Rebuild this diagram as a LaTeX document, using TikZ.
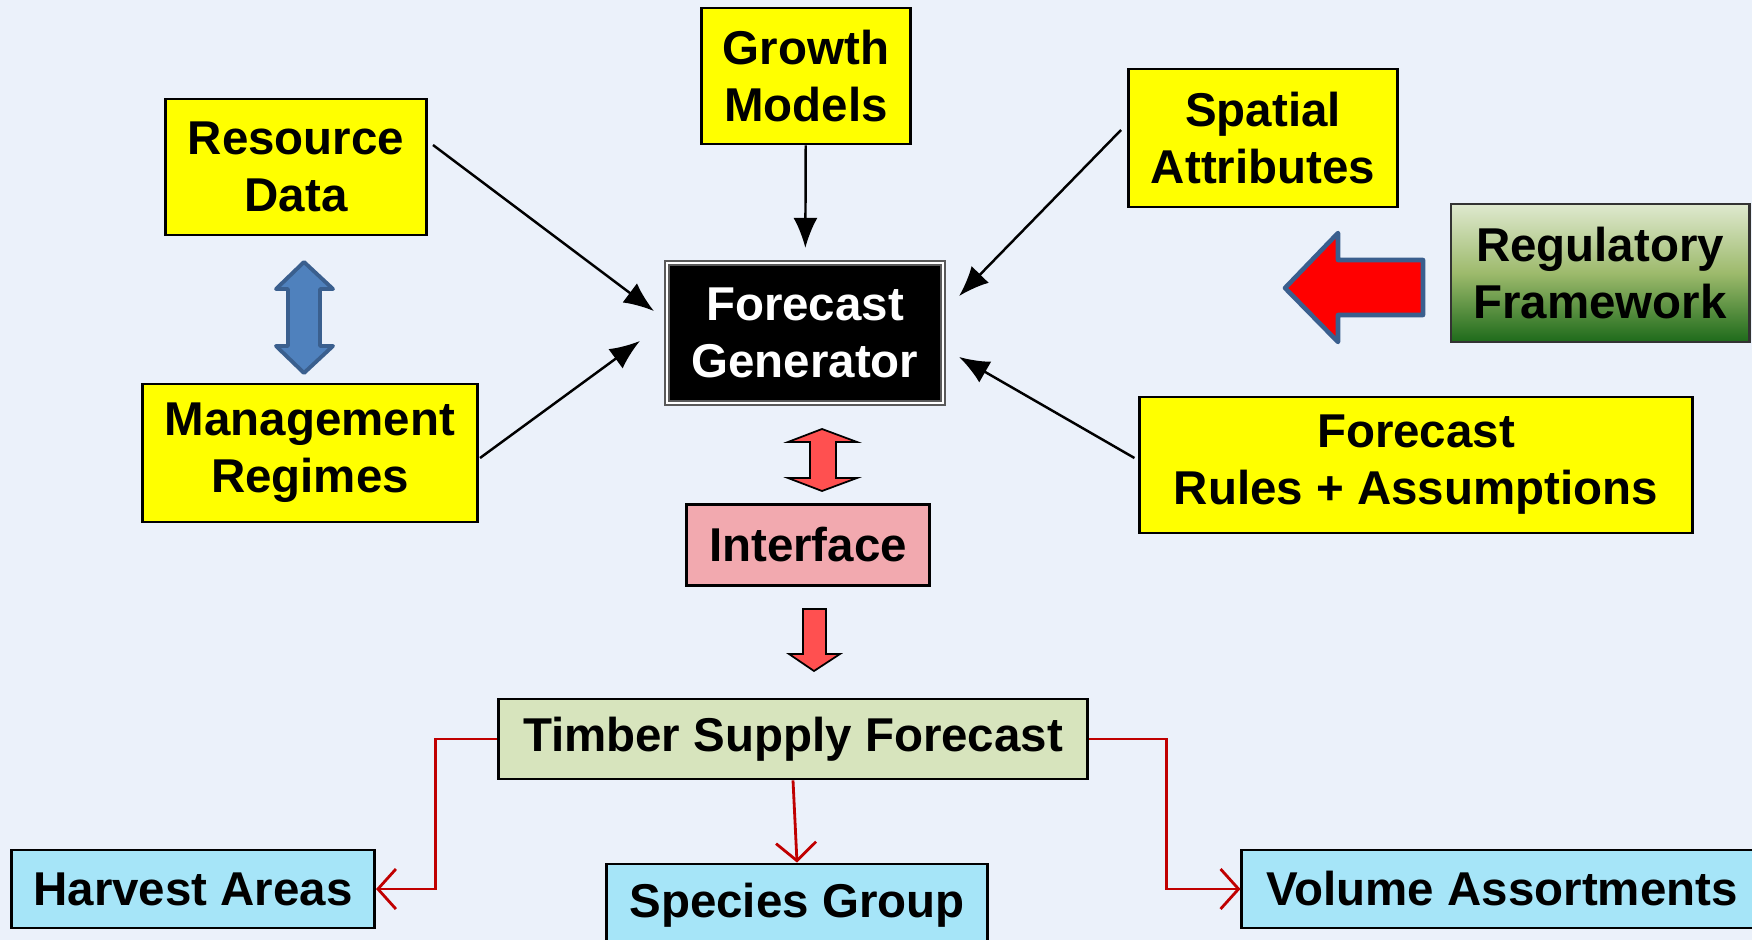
\documentclass[tikz,border=0pt]{standalone}
\usepackage{fontspec}
\setmainfont{Liberation Sans}
\usetikzlibrary{arrows.meta}

\definecolor{bgblue}{HTML}{EBF1FA}
\definecolor{boxyellow}{HTML}{FFFF00}
\definecolor{outcyan}{HTML}{A6E5F8}
\definecolor{timbergreen}{HTML}{D7E4BD}
\definecolor{ifpink}{HTML}{F2A9AF}
\definecolor{linered}{HTML}{C00000}
\definecolor{arrowblue}{HTML}{4F81BD}
\definecolor{arrowblueedge}{HTML}{3A5F8E}
\definecolor{arrowsalmon}{HTML}{FF5050}
\definecolor{regtop}{HTML}{DFE9CF}
\definecolor{regmid}{HTML}{9DBA6C}
\definecolor{regbot}{HTML}{1D6A1A}

\begin{document}
\begin{tikzpicture}[x=0.01cm,y=-0.01cm]
\tikzstyle{box}=[draw=black, line width=0.8pt, align=center, inner sep=0pt, font=\fontsize{13.5}{16.2}\selectfont\bfseries]
\tikzstyle{input}=[box, fill=boxyellow]
\tikzstyle{output}=[box, fill=outcyan]
\tikzstyle{feed}=[-{Latex[length=3mm,width=2.4mm]}, line width=0.7pt]
\tikzstyle{branch}=[-{Straight Barb[length=1.8mm,width=4mm]}, draw=linered, line width=0.8pt]
\tikzstyle{blockarrow}=[line join=round]

% background and page size
\fill[bgblue] (0,0) rectangle (1752,940);
\useasboundingbox (0,0) rectangle (1752,940);

% inputs
\node[input, minimum width=2.61cm, minimum height=1.36cm] (res) at (296,167) {Resource\\Data};
\node[input, minimum width=3.35cm, minimum height=1.38cm] (mgmt) at (310,453) {Management\\Regimes};
\node[input, minimum width=2.09cm, minimum height=1.36cm] (growth) at (806,76) {Growth\\Models};
\node[input, minimum width=2.69cm, minimum height=1.38cm] (spatial) at (1263,138) {Spatial\\Attributes};
\node[input, minimum width=5.52cm, minimum height=1.36cm] (rules) at (1416,465) {Forecast\\Rules + Assumptions};
\node[box, draw=black!80, minimum width=2.98cm, minimum height=1.38cm,
      top color=regtop, bottom color=regbot, middle color=regmid] (reg) at (1600,273) {Regulatory\\Framework};

% generator and interface
\node[box, fill=black, text=white, draw=black!65, line width=0.6pt, double=white, double distance=0.6pt,
      minimum width=2.76cm, minimum height=1.40cm] (gen) at (805,333) {Forecast\\Generator};
\node[box, fill=ifpink, minimum width=2.43cm, minimum height=0.81cm] (iface) at (808,545) {Interface};

% outputs
\node[box, fill=timbergreen, minimum width=5.88cm, minimum height=0.80cm] (timber) at (793,739) {Timber Supply Forecast};
\node[output, minimum width=3.63cm, minimum height=0.78cm] (harvest) at (193,889) {Harvest Areas};
\node[output, minimum width=3.81cm, minimum height=0.82cm] (species) at (797,905) {Species Group};
\node[output, minimum width=5.20cm, minimum height=0.78cm] (volume) at (1502,889) {Volume Assortments};

% feeds into the generator
\draw[feed] ([shift={(5,-22)}]res.east) -- ([shift={(-12,-22)}]gen.west);
\draw[feed] ([shift={(1,5)}]mgmt.east) -- ([shift={(-26,8)}]gen.west);
\draw[feed, shorten >=0.14cm] (growth) -- (gen);
\draw[feed] ([shift={(-6,-8)}]spatial.west) -- ([shift={(15,-37)}]gen.east);
\draw[feed] ([shift={(-4,-7)}]rules.west) -- ([shift={(15,24)}]gen.east);

% block arrows
\filldraw[blockarrow, fill=arrowblue, draw=arrowblueedge, line width=1.1pt]
  (304,262) -- (333,289) -- (320,289) -- (320,346) -- (333,346) -- (304,373)
  -- (276,346) -- (288,346) -- (288,289) -- (276,289) -- cycle;
\filldraw[blockarrow, fill=red, draw=arrowblueedge, line width=1.3pt]
  (1285,288) -- (1338,233) -- (1338,260) -- (1423,260) -- (1423,315)
  -- (1338,315) -- (1338,342) -- cycle;
\filldraw[fill=arrowsalmon, draw=black, line width=0.5pt]
  (822,429) -- (857,442) -- (836,442) -- (836,478) -- (857,478) -- (822,491)
  -- (788,478) -- (810,478) -- (810,442) -- (788,442) -- cycle;
\filldraw[fill=arrowsalmon, draw=black, line width=0.5pt]
  (803,609) -- (826,609) -- (826,654) -- (840,654) -- (814,671) -- (789,654)
  -- (803,654) -- cycle;

% forecast branches
\draw[branch] (timber.west) -- ++(-62,0) |- (harvest.east);
\draw[branch] (timber.south) -- (species.north);
\draw[branch] (timber.east) -- ++(78,0) |- (volume.west);
\end{tikzpicture}
\end{document}
